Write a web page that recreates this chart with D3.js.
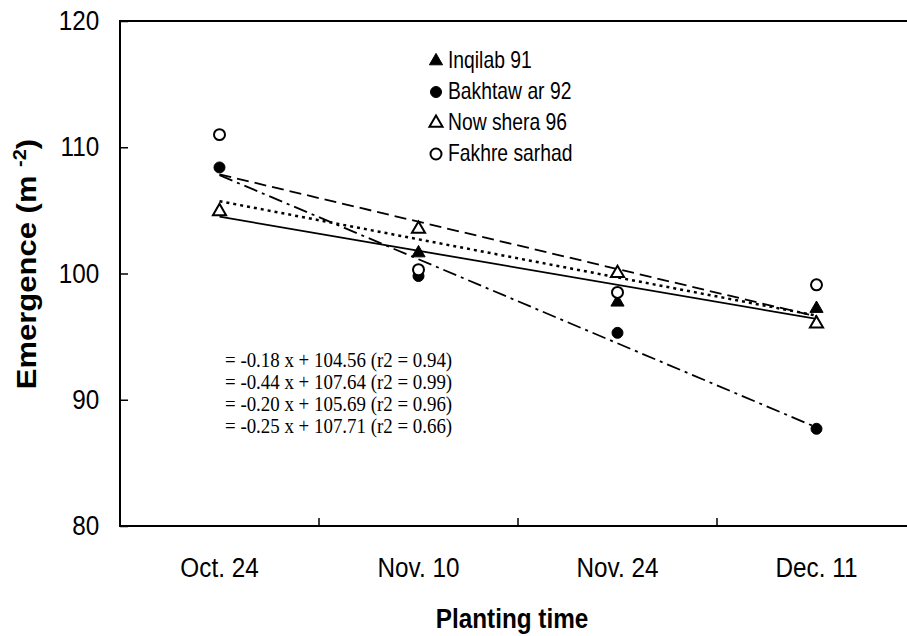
<!DOCTYPE html>
<html>
<head>
<meta charset="utf-8">
<script src="https://cdn.jsdelivr.net/npm/d3@7"></script>
<style>
  body { margin: 0; background: #fff; }
  text { fill: #000; }
</style>
</head>
<body>
<svg width="907" height="636"></svg>
<script>
// values
var categories = ["Oct. 24", "Nov. 10", "Nov. 24", "Dec. 11"];
var inqilab = [105.0, 101.7, 97.8, 97.3];
var bakhtawar = [108.4, 99.8, 95.3, 87.7];
var nowshera = [105.0, 103.6, 100.1, 96.1];
var fakhre = [111.0, 100.3, 98.5, 99.1];
var seriesNames = ["Inqilab 91", "Bakhtaw ar 92", "Now shera 96", "Fakhre sarhad"];
var equations = [
    "= -0.18 x + 104.56 (r2 = 0.94)",
    "= -0.44 x + 107.64 (r2 = 0.99)",
    "= -0.20 x + 105.69 (r2 = 0.96)",
    "= -0.25 x + 107.71 (r2 = 0.66)"
];
var yTicks = [80, 90, 100, 110, 120];

var series = [
    {name: seriesNames[0], values: inqilab, marker: "triangle", fill: "#000", dash: null},
    {name: seriesNames[1], values: bakhtawar, marker: "circle", fill: "#000", dash: "14,5,3,5"},
    {name: seriesNames[2], values: nowshera, marker: "triangle", fill: "#fff", dash: "3,4"},
    {name: seriesNames[3], values: fakhre, marker: "circle", fill: "#fff", dash: "12,6"}
];

var svg = d3.select("svg"),
    margin = {top: 21, right: -9, bottom: 110, left: 120},
    width = svg.attr("width") - margin.left - margin.right,
    height = svg.attr("height") - margin.top - margin.bottom,
    g = svg.append("g").attr("transform", "translate(" + margin.left + "," + margin.top + ")");

var sans = "'Liberation Sans', Arial, sans-serif",
    squeeze = 0.9; // text in the original is a little narrow

var x = d3.scaleBand().domain(categories).range([0, width]).padding(0),
    y = d3.scaleLinear().domain([80, 120]).range([height, 0]);

function cx(i) {
    return x(categories[i]) + x.bandwidth() / 2;
}

// y axis, ticks pointing inward
var yAxis = g.append("g")
    .call(d3.axisLeft(y).tickValues(yTicks).tickSize(-8).tickPadding(23).tickFormat(d3.format("d")));
yAxis.select(".domain").remove();
yAxis.selectAll("line").attr("stroke", "#000").attr("stroke-width", 1.5);
yAxis.selectAll("text")
    .attr("transform", "scale(" + squeeze + ",1)")
    .style("font-family", sans)
    .style("font-size", "27px");

// x axis labels, centered in each category
var xAxis = g.append("g")
    .attr("transform", "translate(0," + height + ")")
    .call(d3.axisBottom(x).tickSize(0).tickPadding(32));
xAxis.select(".domain").remove();
xAxis.selectAll(".tick text")
    .attr("transform", "scale(" + squeeze + ",1)")
    .style("font-family", sans)
    .style("font-size", "27px");

// x ticks between categories, pointing inward
g.selectAll(".xtick")
    .data(categories.slice(1))
    .enter().append("line")
    .attr("class", "xtick")
    .attr("x1", function(d) { return x(d); })
    .attr("x2", function(d) { return x(d); })
    .attr("y1", height)
    .attr("y2", height - 8)
    .attr("stroke", "#000")
    .attr("stroke-width", 1.5);

// plot frame
g.append("rect")
    .attr("width", width)
    .attr("height", height)
    .attr("fill", "none")
    .attr("stroke", "#000")
    .attr("stroke-width", 2);

// axis titles
svg.append("text")
    .attr("transform", "translate(512,628) scale(" + squeeze + ",1)")
    .attr("text-anchor", "middle")
    .style("font-family", sans)
    .style("font-weight", "bold")
    .style("font-size", "27px")
    .text("Planting time");

var yt = svg.append("text")
    .attr("transform", "translate(36,264) scale(" + squeeze + ",1) rotate(-90)")
    .attr("text-anchor", "middle")
    .style("font-family", sans)
    .style("font-weight", "bold")
    .style("font-size", "31px");
yt.append("tspan").text("Emergence (m ");
yt.append("tspan").attr("dy", -11).style("font-size", "20px").text("-2");
yt.append("tspan").attr("dy", 11).text(")");

// least squares trend line for each series
function fit(vals) {
    var n = vals.length,
        mx = d3.mean(vals, function(v, i) { return i; }),
        my = d3.mean(vals);
    var sxy = d3.sum(vals, function(v, i) { return (i - mx) * (v - my); }),
        sxx = d3.sum(vals, function(v, i) { return (i - mx) * (i - mx); });
    var b = sxy / sxx;
    return [my - b * mx, my + b * (n - 1 - mx)];
}

g.selectAll(".trend")
    .data(series)
    .enter().append("line")
    .attr("class", "trend")
    .attr("x1", cx(0))
    .attr("x2", cx(categories.length - 1))
    .attr("y1", function(d) { return y(fit(d.values)[0]); })
    .attr("y2", function(d) { return y(fit(d.values)[1]); })
    .attr("stroke", "#000")
    .attr("stroke-width", function(d) { return d.dash === "3,4" ? 2.5 : 1.8; })
    .attr("stroke-dasharray", function(d) { return d.dash; });

var triangle = d3.symbol().type(d3.symbolTriangle).size(75),
    circle = d3.symbol().type(d3.symbolCircle).size(95);

function drawMarker(sel, d) {
    sel.attr("d", d.marker === "triangle" ? triangle() : circle())
        .attr("fill", d.fill)
        .attr("stroke", "#000")
        .attr("stroke-width", d.fill === "#fff" ? 2 : 1);
}

// markers, later series on top
series.forEach(function(s) {
    g.selectAll(null)
        .data(s.values)
        .enter().append("path")
        .attr("transform", function(v, i) {
            var dy = s.marker === "triangle" ? 1 : 0;
            return "translate(" + cx(i) + "," + (y(v) + dy) + ")";
        })
        .each(function() { drawMarker(d3.select(this), s); });
});

// legend
var legend = svg.append("g")
    .attr("transform", "translate(436,61)");

var item = legend.selectAll(".item")
    .data(series)
    .enter().append("g")
    .attr("class", "item")
    .attr("transform", function(d, i) { return "translate(0," + (i * 31) + ")"; });

item.append("path")
    .each(function(d) { drawMarker(d3.select(this), d); });

item.append("text")
    .attr("transform", "translate(12,7) scale(0.84,1)")
    .style("font-family", sans)
    .style("font-size", "23px")
    .text(function(d) { return d.name; });

// regression equations
svg.append("g")
    .selectAll("text")
    .data(equations)
    .enter().append("text")
    .attr("transform", function(d, i) {
        return "translate(225," + (367 + i * 22) + ") scale(" + squeeze + ",1)";
    })
    .style("font-family", "'Liberation Serif', 'Times New Roman', serif")
    .style("font-size", "21px")
    .text(function(d) { return d; });
</script>
</body>
</html>
